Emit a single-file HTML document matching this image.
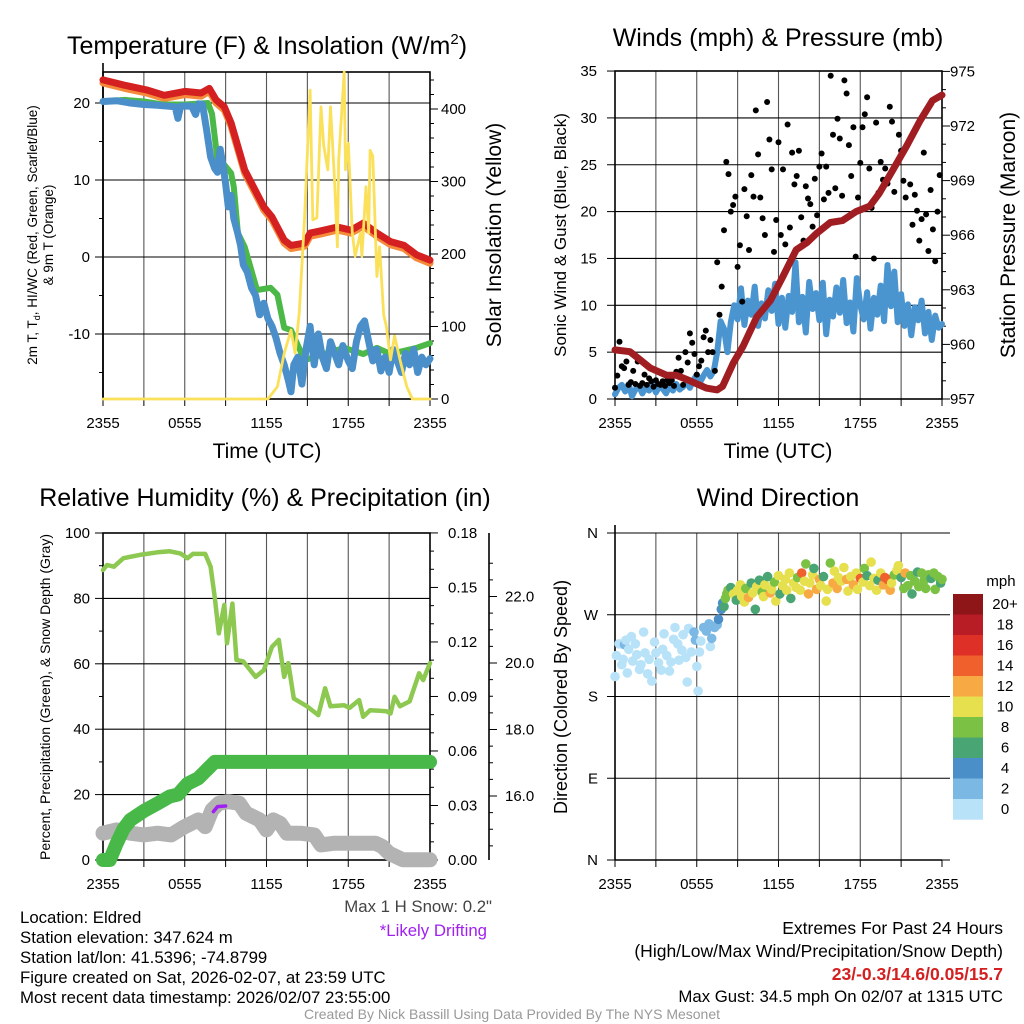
<!DOCTYPE html>
<html><head><meta charset="utf-8"><style>
html,body{margin:0;padding:0;background:#fff}
svg{display:block;font-family:"Liberation Sans",sans-serif}
</style></head><body>
<svg id="root" width="1024" height="1024" viewBox="0 0 1024 1024" xmlns="http://www.w3.org/2000/svg">
<rect x="0" y="0" width="1024" height="1024" fill="#fff"/>
<g id="g"></g>
<g fill="#000">
<text x="267" y="54" font-size="25" text-anchor="middle">Temperature (F) &amp; Insolation (W/m<tspan font-size="15" dy="-10">2</tspan><tspan dy="10">)</tspan></text>
<text x="778" y="46" font-size="25" text-anchor="middle">Winds (mph) &amp; Pressure (mb)</text>
<text x="265" y="506" font-size="25" text-anchor="middle">Relative Humidity (%) &amp; Precipitation (in)</text>
<text x="778" y="506" font-size="25" text-anchor="middle">Wind Direction</text>
<text x="267" y="458" font-size="21" text-anchor="middle">Time (UTC)</text>
<text x="778" y="458" font-size="21" text-anchor="middle">Time (UTC)</text>
<text transform="translate(37,235) rotate(-90)" font-size="13.5" text-anchor="middle">2m T, T<tspan font-size="9" dy="3">d</tspan><tspan dy="-3">, HI/WC (Red, Green, Scarlet/Blue)</tspan></text>
<text transform="translate(53,235) rotate(-90)" font-size="13.5" text-anchor="middle">&amp; 9m T (Orange)</text>
<text transform="translate(501,235) rotate(-90)" font-size="21" text-anchor="middle">Solar Insolation (Yellow)</text>
<text transform="translate(566,235) rotate(-90)" font-size="17" text-anchor="middle">Sonic Wind &amp; Gust (Blue, Black)</text>
<text transform="translate(1015,235) rotate(-90)" font-size="21" text-anchor="middle">Station Pressure (Maroon)</text>
<text transform="translate(50,697) rotate(-90)" font-size="14" text-anchor="middle">Percent, Precipitation (Green), &amp; Snow Depth (Gray)</text>
<text transform="translate(567,697) rotate(-90)" font-size="18" text-anchor="middle">Direction (Colored By Speed)</text>
<text x="1001" y="586" font-size="15" text-anchor="middle">mph</text>
</g>
<g font-size="16.8" fill="#000">
<text x="20" y="923">Location: Eldred</text>
<text x="20" y="943">Station elevation: 347.624 m</text>
<text x="20" y="963">Station lat/lon: 41.5396; -74.8799</text>
<text x="20" y="983">Figure created on Sat, 2026-02-07, at 23:59 UTC</text>
<text x="20" y="1003">Most recent data timestamp: 2026/02/07 23:55:00</text>
<text x="492" y="912" text-anchor="end" fill="#444">Max 1 H Snow: 0.2"</text>
<text x="487" y="936" text-anchor="end" fill="#a020f0">*Likely Drifting</text>
<g font-size="17.5">
<text x="1003" y="934" text-anchor="end">Extremes For Past 24 Hours</text>
<text x="1003" y="957" text-anchor="end">(High/Low/Max Wind/Precipitation/Snow Depth)</text>
<text x="1003" y="980" text-anchor="end" fill="#d42020" font-weight="bold">23/-0.3/14.6/0.05/15.7</text>
<text x="1003" y="1002" text-anchor="end" font-size="16.8">Max Gust: 34.5 mph On 02/07 at 1315 UTC</text>
</g>
<text x="512" y="1019" text-anchor="middle" font-size="14" fill="#999">Created By Nick Bassill Using Data Provided By The NYS Mesonet</text>
</g>
</svg>
<script>
// ---------- data ----------
const timeTicks = ["2355","0555","1155","1755","2355"];
const tempRed = [[0,23],[1.6,22.3],[3.2,21.7],[4.5,21],[6,21.5],[7.2,21.3],[7.8,21.9],[8.3,20.4],[8.9,19.5],[9.4,17.4],[10.4,11.3],[11.8,6.5],[12.4,5.2],[13.3,2.2],[13.8,1.5],[14.8,1.8],[15.2,3.1],[16,3.4],[17.2,3.9],[18.2,3.5],[19.1,4.4],[20.1,3.1],[21.1,2],[22.1,1.5],[23,0.3],[24,-0.4]];
const tempOrange = [[0,22.6],[1.6,21.9],[3.2,21.3],[4.5,20.6],[6,21.1],[7.2,20.9],[7.8,21.5],[8.3,20],[8.9,19.1],[9.4,17],[10.4,10.9],[11.8,6.1],[12.4,4.8],[13.3,1.8],[13.8,1.1],[14.8,1.4],[15.2,2.7],[16,3],[17.2,3.5],[18.2,3.1],[19.1,4],[20.1,2.7],[21.1,1.6],[22.1,1.1],[23,-0.1],[24,-0.8]];
const tempGreen = [[0,20.2],[1.6,20.4],[3,20.2],[4.4,19.8],[6,19.8],[7.7,20],[8,18.6],[8.4,12.6],[8.8,12.2],[9.4,10.9],[9.6,9.1],[9.9,3.1],[10.4,1.3],[11.3,-4.3],[12.3,-4],[12.8,-4.9],[13.3,-9.2],[13.8,-9.5],[14.8,-13.4],[16.2,-12.6],[17.7,-11.8],[19.1,-12.6],[20.1,-11.8],[21.1,-12.6],[23,-11.8],[24,-11.2]];
const tempBlue = [[0,20.2],[1,20.3],[2,20],[3,19.8],[4,19.7],[5.3,19.5],[5.5,18],[5.7,19.6],[6.5,19.6],[6.8,18.5],[7,19.9],[7.3,19.8],[7.6,16.5],[7.9,13],[8.2,11.5],[8.4,11],[8.6,14],[8.8,12],[9,9.5],[9.2,6.5],[9.4,8],[9.6,5],[9.9,3],[10.1,1.5],[10.3,-1],[10.6,-2],[10.9,-4],[11.2,-5],[11.5,-7.5],[11.8,-6],[12.1,-8],[12.4,-9],[12.7,-10.5],[13,-12.5],[13.3,-14],[13.6,-16],[13.8,-17.5],[14,-14],[14.3,-13],[14.6,-16.5],[14.9,-12],[15.2,-9],[15.5,-14],[15.8,-10],[16.1,-13],[16.4,-14.5],[16.7,-11],[17,-12.5],[17.3,-14],[17.6,-11.5],[18,-13.5],[18.3,-14.5],[18.6,-11],[18.9,-9],[19.2,-8.3],[19.5,-11],[19.8,-13.5],[20.1,-12],[20.4,-14.8],[20.7,-13],[21,-15],[21.3,-12],[21.6,-13.5],[21.9,-15],[22.2,-12.5],[22.5,-14],[22.8,-12],[23.1,-15],[23.4,-13],[23.7,-14],[24,-13.2]];
const insolation = [[0,0],[12.1,0],[12.8,17],[13.3,63],[13.8,95],[14.1,63],[14.4,118],[14.8,251],[15.2,426],[15.4,247],[15.7,250],[16,403],[16.2,350],[16.5,316],[16.7,403],[17,300],[17.2,210],[17.3,330],[17.7,451],[17.8,316],[18,353],[18.3,229],[18.5,197],[18.9,229],[19,197],[19.3,293],[19.5,229],[19.6,343],[19.8,335],[20.1,169],[20.3,210],[20.6,116],[20.8,100],[21.1,54],[21.4,87],[21.8,54],[22.3,17],[22.7,0],[24,0]];
const gusts = [1.2,2.5,6.1,3.5,3.3,4.0, 1.5,1.8,3.0,1.6,4.0,1.4, 1.7,2.6,1.5,2.2,1.9,1.3, 2.0,1.6,1.5,1.9,1.4,2.0, 1.7,2.0,1.4,2.9,4.4,3.0, 1.5,5.0,3.9,7.0,6.0,4.8, 2.6,3.5,4.1,6.6,7.3,5.0, 6.3,5.0,3.0,14.6,9.0,12.0, 18.0,25.3,24.0,20.0,20.7,21.6, 14.1,16.4,10.4,22.4,19.5,15.9, 23.9,21.6,30.8,26.1,21.5,19.3, 17.5,31.7,27.7,24.5,15.7,19.1, 27.4,17.5,24.5,16.5,29.3,18.3, 26.3,22.9,23.8,26.5,19.4,16.9, 22.7,21.4,20.8,18.4,23.5,19.6, 24.8,26.2,21.3,24.8,22.0,34.5, 28.2,22.5,29.9,27.8,21.7,34.0, 32.6,27.1,23.8,29.0,15.2,21.5, 25.2,29.0,30.4,32.2,24.6,20.4, 15.0,29.5,22.0,25.3,23.4,24.6, 23.0,31.2,29.6,22.1,25.2,28.2, 26.5,23.3,21.5,27.2,22.9,18.6, 21.8,20.1,16.9,19.2,26.3,19.7, 15.8,22.3,18.1,14.7,20.0,23.9];
const windSpeed = [0.5,1.2,1.5,0.8,1.6,0.3,1.0,1.4,0.6,1.2,0.9,1.5,0.7,1.3,1.1,0.6,1.4,0.9,1.6,1.0,1.3,1.8,1.2,2.0,2.6,1.8,2.5,3.1,2.4,3.0, 5.0,8.3, 7.5,5.0,8.2,10.0, 8.5,11.8,7.9,10.5,9.0,12.0,7.8,10.2,8.6,11.6,9.4,12.3,8.0,10.8,7.6,11.0,9.3,14.6,8.2,10.9,7.1,12.5,9.6,11.3,8.4,12.4,6.9,10.6,8.8,11.9,9.2,12.7,8.1,10.3,7.2,12.9,10.0,8.5,11.4,7.5,10.8,9.0,12.1,8.3,14.3,9.9,13.6,8.2,11.2,7.8,10.1,6.8,9.8,8.4,10.5,7.0,9.3,6.3,8.9,7.6,8.0];
const pressure = [[0,959.7],[1.1,959.6],[1.6,959.3],[2.6,958.7],[3.8,958.3],[4.5,958.3],[5.5,958],[6.7,957.6],[7.5,957.5],[7.9,957.7],[8.7,959],[9.4,959.9],[10.4,961.5],[11.4,962.4],[12.3,963.7],[13.3,965.2],[14.1,965.6],[14.8,966.1],[15.8,966.7],[16.7,966.8],[17.7,967.3],[18.7,967.6],[19.4,968.3],[20.4,969.6],[21.4,970.9],[22.4,972.3],[23.3,973.4],[24,973.7]];
const rh = [[0,88.7],[0.3,90.2],[0.8,89.7],[1.5,92.3],[2.7,93.3],[4,94.1],[4.9,94.4],[5.7,93.7],[6.2,92.3],[6.6,93.6],[7.5,93.6],[7.9,89.7],[8.2,80.5],[8.5,69.3],[8.9,78],[9.1,66.3],[9.5,78.4],[9.8,61.2],[10.3,60.7],[11.2,56],[11.8,58],[12.4,65.2],[12.9,67.3],[13.3,56],[13.6,60.2],[14,49.4],[15,46.9],[15.8,44.3],[16.3,52.5],[16.7,47],[17.7,47.3],[18.1,46.5],[18.8,48.9],[19.1,43.8],[19.6,45.8],[20.8,45.5],[21.1,44.8],[21.4,49.9],[21.8,47],[22.5,48.5],[23.2,57.1],[23.5,55],[24,60.2]];
const precip = [[0,0],[0.5,0],[1,0.009],[1.5,0.017],[2,0.022],[3,0.027],[3.96,0.031],[4.9,0.035],[5.5,0.036],[6.2,0.042],[7,0.045],[7.4,0.048],[8.2,0.054],[24,0.054]];
const snowDepth = [[0,14.88],[1,14.98],[2,14.88],[3,14.83],[4,14.88],[5,14.83],[6,15.08],[7,15.28],[7.5,15.08],[8,15.58],[8.5,15.78],[9.2,15.83],[10,15.78],[10.5,15.48],[11.5,15.28],[12,14.98],[12.5,15.28],[13,15.18],[13.5,14.88],[14.5,14.88],[15.5,14.83],[16,14.53],[17,14.58],[20,14.58],[20.5,14.48],[21,14.28],[22,14.08],[24,14.08]];
const drifting = [[8.1,15.53],[8.4,15.68],[9,15.7]];
const dirTimes = [0,0.1,0.3,0.5,0.6,0.7,0.8,0.9,1.0,1.2,1.3,1.5,1.6,1.8,1.9,2.1,2.2,2.4,2.5,2.7,2.9,3.0,3.2,3.4,3.5,3.6,3.8,4.0,4.1,4.3,4.4,4.6,4.7,4.9,5.0,5.2,5.3,5.4,5.6,5.8,5.9,6.0,6.1,6.2,6.3,6.5,6.7,6.9,7.0,7.1,7.3,7.5,7.6,7.8,7.9,8.0,8.1,8.2,8.3,8.5,8.7,8.9,9.0,9.2,9.3,9.5,9.6,9.8,10.0,10.1,10.3,10.4,10.6,10.8,10.9,11.0,11.2,11.4,11.5,11.7,11.8,12.0,12.1,12.3,12.5,12.6,12.8,12.9,13.1,13.3,13.4,13.6,13.7,13.9,14.0,14.2,14.3,14.5,14.6,14.8,15.0,15.1,15.3,15.5,15.6,15.8,16.0,16.1,16.3,16.4,16.6,16.8,17.0,17.1,17.3,17.5,17.7,17.8,18.0,18.2,18.3,18.5,18.7,18.8,19.0,19.2,19.3,19.5,19.7,19.8,20.0,20.2,20.3,20.5,20.7,20.8,21.0,21.2,21.3,21.5,21.7,21.8,22.0,22.2,22.3,22.5,22.7,22.8,23.0,23.2,23.4,23.5,23.7,23.9,24.0];
const dirDegrees = [202,225,238,215,221,237,242,206,232,246,219,238,226,210,215,251,228,205,221,197,240,228,217,209,232,249,225,208,218,243,256,238,220,231,248,223,196,255,229,251,242,213,186,229,241,256,252,260,235,244,256,259,265,276,283,279,288,293,297,300,293,286,297,303,290,284,299,289,305,294,276,301,308,295,290,303,312,294,298,306,285,313,293,302,309,297,316,288,305,300,311,297,316,307,326,293,305,314,321,298,309,302,312,285,298,327,305,318,299,311,307,322,309,296,312,303,316,298,310,306,321,313,302,328,310,297,308,316,303,311,309,297,305,314,319,324,311,299,316,302,313,293,307,317,301,316,308,299,314,310,316,298,312,305,309];
const dirSpeeds = [1,1,1,1,0.5,3,1.5,1,1,1,0.5,1,1,1,1,1,1,1,1,1,1,1,1,1,1,1,1,1,1,1,1,1,1,1,1,1,1,1,1,3,2.5,1,1,1,1,3,2.5,2.5,1,3,3,2.5,5,5,5,7,8,8,9,7,10,6,10,11,10,10,8,12,6,10,7,10,7,8,10,10,7,12,10,9,10,11,6,10,10,10,10,7,11,10,8,10,15,10,9,12,10,10,7,12,12,10,7,11,10,8,12,10,13,10,10,10,13,10,10,12,10,10,15,10,9,6,10,10,10,10,7,10,12,14,15,12,10,9,10,11,7,9,13,8,9,6,8,7,9,8,9,8,8,7,9,8,9,7,8];
const speedLabels = ["20+","18","16","14","12","10","8","6","4","2","0"];
const speedColors = ["#b8e2f8","#7cb8e4","#4a8fc8","#4aa574","#7bc143","#e6e04e","#f7a944","#f0602c","#de3027","#b81c24","#8e1518"];

// ---------- helpers ----------
const NS = "http://www.w3.org/2000/svg";
const G = document.getElementById("g");
function mk(tag, attrs, parent) {
  const el = document.createElementNS(NS, tag);
  for (const k in attrs) el.setAttribute(k, attrs[k]);
  (parent || G).appendChild(el);
  return el;
}
function tx(x0, x1) { return h => x0 + h / 24 * (x1 - x0); }
const P1 = {x0:103,x1:430,y0:72,y1:399}, P2 = {x0:615,x1:942,y0:71,y1:399}, P3 = {x0:103,x1:430,y0:533,y1:860}, P4 = {x0:615,x1:942,y0:533,y1:860};
const x1s = tx(P1.x0, P1.x1), x2s = tx(P2.x0, P2.x1);
const yTemp = v => 257 - 7.7 * v;
const yIns = w => 399 - 0.725 * w;
const yWind = v => 399 - 9.37 * v;
const yPres = p => 399 - (p - 957) * 18.2;
const yPct = p => 860 - 3.27 * p;
const yPrecip = p => 860 - 1817 * p;
const ySnow = s => 663 - (s - 20) * 33.25;
const yDir = d => 860 - 0.9083 * d;

function pathOf(pts, xs, ys) { return pts.map((p, i) => (i ? "L" : "M") + xs(p[0]).toFixed(1) + "," + ys(p[1]).toFixed(1)).join(""); }
function series(pts, xs, ys, color, w, name) {
  const el = mk("path", {d: pathOf(pts, xs, ys), fill: "none", stroke: color, "stroke-width": w, "stroke-linejoin": "round", "stroke-linecap": "round"});
  
  
  return el;
}
function label(x, y, s, anchor, size, name, color) {
  const el = mk("text", {x: x, y: y, "font-size": size || 15, "text-anchor": anchor || "middle", fill: color || "#000"});
  el.textContent = s;
  
  
  return el;
}
function ln(x1, y1, x2, y2, c, w, name) {
  const el = mk("line", {x1: x1, y1: y1, x2: x2, y2: y2, stroke: c || "#000", "stroke-width": w || 1});
  
  
  return el;
}
function frame(P, xs, hGrid, name) {
  for (let h = 3; h < 24; h += 3) ln(xs(h), P.y0, xs(h), P.y1, "#555", 1.1, name + "-vgrid");
  hGrid.forEach(y => ln(P.x0, y, P.x1, y, "#000", 1.1, name + "-hgrid"));
  const r = mk("rect", {x: P.x0, y: P.y0, width: P.x1 - P.x0, height: P.y1 - P.y0, fill: "none", stroke: "#000", "stroke-width": 1.6});
  
  
  for (let h = 0; h <= 24; h += 3) ln(xs(h), P.y1, xs(h), P.y1 + 7, "#000", 1, name + "-xtick");
  timeTicks.forEach((t, i) => label(xs(i * 6), P.y1 + 29, t, "middle", 15, name + "-xtick-label"));
}

// ---------- panel 1 ----------
frame(P1, x1s, [20,10,0,-10].map(yTemp), "temp");
ln(P1.x0, 63, P1.x0, P1.y1, "#000", 1.6, "temp-left-spine");
[20,10,0,-10].forEach(v => { ln(P1.x0 - 8, yTemp(v), P1.x0, yTemp(v), "#000", 1, "temp-ytick"); label(P1.x0 - 13, yTemp(v) + 5, String(v), "end", 15, "temp-ytick-label"); });
[15,5,-5,-15].forEach(v => ln(P1.x0 - 4, yTemp(v), P1.x0, yTemp(v), "#000", 1, "temp-minor-tick"));
[0,100,200,300,400].forEach(w => { ln(P1.x1, yIns(w), P1.x1 + 8, yIns(w), "#000", 1, "ins-ytick"); label(P1.x1 + 11, yIns(w) + 5, String(w), "start", 15, "ins-ytick-label"); });
for (let w = 20; w <= 440; w += 20) if (w % 100) ln(P1.x1, yIns(w), P1.x1 + 4, yIns(w), "#000", 1, "ins-minor-tick");
series(tempOrange, x1s, yTemp, "#f58a3a", 7, "orange-9m-temp-line");
series(tempRed, x1s, yTemp, "#d42020", 7, "red-hiwc-line");
series(tempGreen, x1s, yTemp, "#4cb848", 6, "green-dewpoint-line");
series(tempBlue, x1s, yTemp, "#4a8fc9", 7, "blue-temp-line");
series(insolation, x1s, yIns, "#fbe05a", 2.8, "yellow-insolation-line");

// ---------- panel 2 ----------
frame(P2, x2s, [5,10,15,20,25,30].map(yWind), "wind");
[0,5,10,15,20,25,30,35].forEach(v => { ln(P2.x0 - 8, yWind(v), P2.x0, yWind(v), "#000", 1, "wind-ytick"); label(P2.x0 - 18, yWind(v) + 5, String(v), "end", 15, "wind-ytick-label"); });
[957,960,963,966,969,972,975].forEach(p => { ln(P2.x1, yPres(p), P2.x1 + 8, yPres(p), "#000", 1, "pres-ytick"); label(P2.x1 + 8, yPres(p) + 5, String(p), "start", 15, "pres-ytick-label"); });
for (let p = 958; p < 975; p++) if ((p - 957) % 3) ln(P2.x1, yPres(p), P2.x1 + 4, yPres(p), "#000", 1, "pres-minor-tick");
series(windSpeed.map((v, i) => [i * 0.25, v]), x2s, yWind, "#4a95d0", 6, "blue-sonic-wind-line");
gusts.forEach((v, i) => {
  const c = mk("circle", {cx: x2s(i / 6).toFixed(1), cy: yWind(v).toFixed(1), r: 3, fill: "#000"});
  
  
});
series(pressure, x2s, yPres, "#a01e22", 7, "maroon-pressure-line");

// ---------- panel 3 ----------
frame(P3, x1s, [20,40,60,80].map(yPct), "rh");
[0,20,40,60,80,100].forEach(v => { ln(P3.x0 - 8, yPct(v), P3.x0, yPct(v), "#000", 1, "rh-ytick"); label(P3.x0 - 13, yPct(v) + 5, String(v), "end", 15, "rh-ytick-label"); });
[10,30,50,70,90].forEach(v => ln(P3.x0 - 4, yPct(v), P3.x0, yPct(v), "#000", 1, "rh-minor-tick"));
["0.00","0.03","0.06","0.09","0.12","0.15","0.18"].forEach(s => { const p = parseFloat(s); ln(P3.x1, yPrecip(p), P3.x1 + 8, yPrecip(p), "#000", 1, "precip-ytick"); label(P3.x1 + 18, yPrecip(p) + 5, s, "start", 15, "precip-ytick-label"); });
for (let k = 1; k < 18; k++) if (k % 3) ln(P3.x1, yPrecip(k * 0.01), P3.x1 + 4, yPrecip(k * 0.01), "#000", 1, "precip-minor-tick");
ln(489, 533, 489, 860, "#000", 1.6, "snow-axis-line");
["16.0","18.0","20.0","22.0"].forEach(s => { const v = parseFloat(s); ln(489, ySnow(v), 497, ySnow(v), "#000", 1, "snow-tick"); label(505, ySnow(v) + 5, s, "start", 15, "snow-tick-label"); });
for (let v = 14.5; v < 23.5; v += 0.5) if (v % 2) ln(489, ySnow(v), 493, ySnow(v), "#000", 1, "snow-minor-tick");
series(snowDepth, x1s, ySnow, "#b3b3b3", 15, "gray-snow-depth-line");
series(precip, x1s, yPrecip, "#48b848", 14, "green-precip-line");
series(rh, x1s, yPct, "#8dc850", 4.5, "rh-line");
series(drifting, x1s, ySnow, "#a020f0", 3.5, "purple-drifting-line");

// ---------- panel 4 ----------
for (let h = 3; h < 24; h += 3) ln(x2s(h), P4.y0, x2s(h), P4.y1, "#555", 1.1, "dir-vgrid");
[0,90,180,270,360].forEach(d => ln(607, yDir(d), 950, yDir(d), "#000", 1.1, "dir-hgrid"));
ln(P4.x0, P4.y0 - 8, P4.x0, P4.y1, "#000", 1.6, "dir-left-spine");
ln(P4.x0, P4.y1, P4.x1, P4.y1, "#000", 1.6, "dir-bottom-spine");
for (let h = 0; h <= 24; h += 3) ln(x2s(h), P4.y1, x2s(h), P4.y1 + 7, "#000", 1, "dir-xtick");
timeTicks.forEach((t, i) => label(x2s(i * 6), P4.y1 + 29, t, "middle", 15, "dir-xtick-label"));
["N","E","S","W","N"].forEach((s, i) => label(598, yDir(i * 90) + 5, s, "end", 15, "dir-ytick-label"));
dirTimes.forEach((h, i) => {
  const bin = Math.min(10, Math.floor(dirSpeeds[i] / 2));
  const c = mk("circle", {cx: x2s(h).toFixed(1), cy: yDir(dirDegrees[i]).toFixed(1), r: 4.8, fill: speedColors[bin]});
  
  
});
speedLabels.forEach((s, i) => {
  const y = 594 + i * 20.5;
  const r = mk("rect", {x: 953, y: y, width: 30, height: 20.7, fill: speedColors[10 - i]});
  
  
  label(1005, y + 15, s, "middle", 15, "colorbar-label");
});
</script>
</body></html>
